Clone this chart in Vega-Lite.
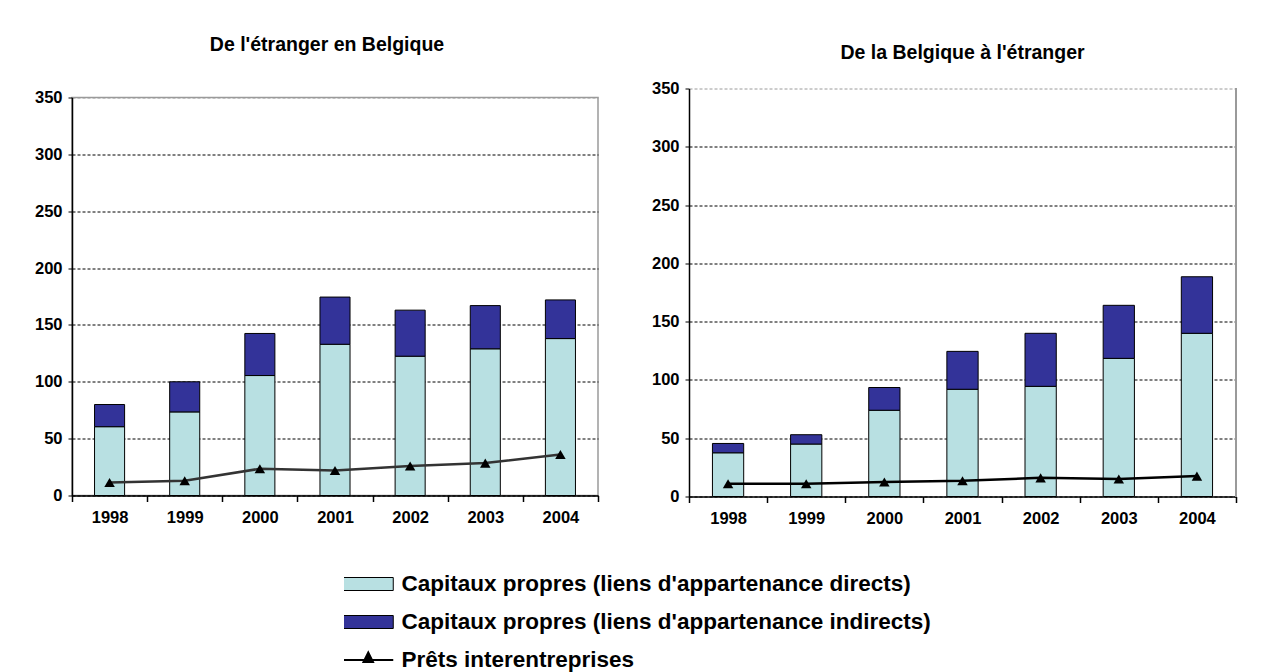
{
  "$schema": "https://vega.github.io/schema/vega-lite/v6.json",
  "padding": {"left": 33, "top": 33.5, "right": 5, "bottom": 5},
  "autosize": {"type": "pad"},
  "background": "white",
  "spacing": 51,
  "datasets": {
    "d": [
      {"panel": "A", "year": "1998", "series": "Capitaux propres (liens d'appartenance directs)", "value": 60.5},
      {"panel": "A", "year": "1998", "series": "Capitaux propres (liens d'appartenance indirects)", "value": 19.5},
      {"panel": "A", "year": "1998", "series": "Prêts interentreprises", "value": 11.5},
      {"panel": "A", "year": "1999", "series": "Capitaux propres (liens d'appartenance directs)", "value": 73.5},
      {"panel": "A", "year": "1999", "series": "Capitaux propres (liens d'appartenance indirects)", "value": 26.5},
      {"panel": "A", "year": "1999", "series": "Prêts interentreprises", "value": 13},
      {"panel": "A", "year": "2000", "series": "Capitaux propres (liens d'appartenance directs)", "value": 105.5},
      {"panel": "A", "year": "2000", "series": "Capitaux propres (liens d'appartenance indirects)", "value": 37},
      {"panel": "A", "year": "2000", "series": "Prêts interentreprises", "value": 23.5},
      {"panel": "A", "year": "2001", "series": "Capitaux propres (liens d'appartenance directs)", "value": 133},
      {"panel": "A", "year": "2001", "series": "Capitaux propres (liens d'appartenance indirects)", "value": 41.5},
      {"panel": "A", "year": "2001", "series": "Prêts interentreprises", "value": 22},
      {"panel": "A", "year": "2002", "series": "Capitaux propres (liens d'appartenance directs)", "value": 122.5},
      {"panel": "A", "year": "2002", "series": "Capitaux propres (liens d'appartenance indirects)", "value": 40.5},
      {"panel": "A", "year": "2002", "series": "Prêts interentreprises", "value": 26},
      {"panel": "A", "year": "2003", "series": "Capitaux propres (liens d'appartenance directs)", "value": 129},
      {"panel": "A", "year": "2003", "series": "Capitaux propres (liens d'appartenance indirects)", "value": 38},
      {"panel": "A", "year": "2003", "series": "Prêts interentreprises", "value": 28.5},
      {"panel": "A", "year": "2004", "series": "Capitaux propres (liens d'appartenance directs)", "value": 138},
      {"panel": "A", "year": "2004", "series": "Capitaux propres (liens d'appartenance indirects)", "value": 34},
      {"panel": "A", "year": "2004", "series": "Prêts interentreprises", "value": 36},
      {"panel": "B", "year": "1998", "series": "Capitaux propres (liens d'appartenance directs)", "value": 37.5},
      {"panel": "B", "year": "1998", "series": "Capitaux propres (liens d'appartenance indirects)", "value": 8},
      {"panel": "B", "year": "1998", "series": "Prêts interentreprises", "value": 11},
      {"panel": "B", "year": "1999", "series": "Capitaux propres (liens d'appartenance directs)", "value": 45},
      {"panel": "B", "year": "1999", "series": "Capitaux propres (liens d'appartenance indirects)", "value": 8},
      {"panel": "B", "year": "1999", "series": "Prêts interentreprises", "value": 11},
      {"panel": "B", "year": "2000", "series": "Capitaux propres (liens d'appartenance directs)", "value": 74},
      {"panel": "B", "year": "2000", "series": "Capitaux propres (liens d'appartenance indirects)", "value": 19.5},
      {"panel": "B", "year": "2000", "series": "Prêts interentreprises", "value": 12.5},
      {"panel": "B", "year": "2001", "series": "Capitaux propres (liens d'appartenance directs)", "value": 92},
      {"panel": "B", "year": "2001", "series": "Capitaux propres (liens d'appartenance indirects)", "value": 32.5},
      {"panel": "B", "year": "2001", "series": "Prêts interentreprises", "value": 13.5},
      {"panel": "B", "year": "2002", "series": "Capitaux propres (liens d'appartenance directs)", "value": 94.5},
      {"panel": "B", "year": "2002", "series": "Capitaux propres (liens d'appartenance indirects)", "value": 45.5},
      {"panel": "B", "year": "2002", "series": "Prêts interentreprises", "value": 16},
      {"panel": "B", "year": "2003", "series": "Capitaux propres (liens d'appartenance directs)", "value": 118.5},
      {"panel": "B", "year": "2003", "series": "Capitaux propres (liens d'appartenance indirects)", "value": 45.5},
      {"panel": "B", "year": "2003", "series": "Prêts interentreprises", "value": 15},
      {"panel": "B", "year": "2004", "series": "Capitaux propres (liens d'appartenance directs)", "value": 140},
      {"panel": "B", "year": "2004", "series": "Capitaux propres (liens d'appartenance indirects)", "value": 48.5},
      {"panel": "B", "year": "2004", "series": "Prêts interentreprises", "value": 17.5}
    ]
  },
  "hconcat": [
    {
      "width": 526,
      "height": 398,
      "title": {"text": "De l'étranger en Belgique", "offset": 34.5, "dx": -8},
      "data": {"name": "d"},
      "transform": [{"filter": "datum.panel === 'A'"}],
      "encoding": {
        "x": {"field": "year", "type": "ordinal", "title": null,
              "scale": {"paddingInner": 0, "paddingOuter": 0},
              "axis": {"tickBand": "extent", "labelAngle": 0, "tickSize": 6, "labelPadding": 8, "domainWidth": 1.5, "tickWidth": 1.5}},
        "y": {"field": "value", "type": "quantitative", "title": null,
              "scale": {"domain": [0, 350], "nice": false},
              "axis": {"values": [0, 50, 100, 150, 200, 250, 300, 350], "tickSize": 4, "labelPadding": 6, "grid": true, "gridDash": [3, 2],
                       "gridColor": {"condition": {"test": "datum.value === 350", "value": "#9a9a9a"}, "value": "black"},
                       "domainWidth": 1.5}}
      },
      "layer": [
        {
          "transform": [{"filter": "datum.series !== 'Prêts interentreprises'"}],
          "mark": {"type": "bar", "width": {"band": 0.4}, "stroke": "black", "strokeWidth": 1},
          "encoding": {
            "color": {"field": "series", "type": "nominal",
                      "scale": {"domain": ["Capitaux propres (liens d'appartenance directs)", "Capitaux propres (liens d'appartenance indirects)", "Prêts interentreprises"],
                                "range": ["#b8e0e2", "#333399", "black"]},
                      "legend": {"orient": "none", "legendX": 272, "legendY": 476.5,
                                 "encode": {"symbols": {"update": {
                                   "shape": {"signal": "datum.value === 'Prêts interentreprises' ? 'M-1,0H1M0,-0.3L0.19,0.08H-0.19Z' : 'M-1,-0.26H1V0.26H-1Z'"},
                                   "strokeWidth": {"signal": "datum.value === 'Prêts interentreprises' ? 2 : 1"},
                                   "stroke": {"value": "black"}}}}}},
            "order": {"field": "series", "sort": "ascending"}
          }
        },
        {
          "transform": [{"filter": "datum.series === 'Prêts interentreprises'"}],
          "mark": {"type": "line", "color": "#333333", "strokeWidth": 2.5},
          "encoding": {}
        },
        {
          "transform": [{"filter": "datum.series === 'Prêts interentreprises'"}],
          "mark": {"type": "point", "shape": "triangle-up", "filled": true, "size": 110, "opacity": 1},
          "encoding": {
            "color": {"field": "series", "type": "nominal"}
          }
        }
      ]
    },
    {
      "width": 547,
      "height": 399,
      "view": {"stroke": null},
      "title": {"text": "De la Belgique à l'étranger", "offset": 17.5},
      "data": {"name": "d"},
      "transform": [{"filter": "datum.panel === 'B'"}],
      "encoding": {
        "x": {"field": "year", "type": "ordinal", "title": null,
              "scale": {"paddingInner": 0, "paddingOuter": 0},
              "axis": {"tickBand": "extent", "labelAngle": 0, "tickSize": 6, "labelPadding": 8, "domainWidth": 1.5, "tickWidth": 1.5}},
        "y": {"field": "value", "type": "quantitative", "title": null,
              "scale": {"domain": [0, 350], "nice": false, "range": [399, -9]},
              "axis": {"values": [0, 50, 100, 150, 200, 250, 300, 350], "tickSize": 4, "labelPadding": 6, "grid": true, "gridDash": [3, 2],
                       "gridColor": {"condition": {"test": "datum.value === 350", "value": "#9a9a9a"}, "value": "black"},
                       "domainWidth": 1.5}}
      },
      "layer": [
        {
          "transform": [{"filter": "datum.series !== 'Prêts interentreprises'"}],
          "mark": {"type": "bar", "width": {"band": 0.4}, "stroke": "black", "strokeWidth": 1},
          "encoding": {
            "color": {"field": "series", "type": "nominal"},
            "order": {"field": "series", "sort": "ascending"}
          }
        },
        {
          "transform": [{"filter": "datum.series === 'Prêts interentreprises'"}],
          "mark": {"type": "line", "color": "black", "strokeWidth": 2.5},
          "encoding": {}
        },
        {
          "transform": [{"filter": "datum.series === 'Prêts interentreprises'"}],
          "mark": {"type": "point", "shape": "triangle-up", "filled": true, "size": 110, "opacity": 1},
          "encoding": {
            "color": {"field": "series", "type": "nominal"}
          }
        },
        {
          "mark": {"type": "rule", "color": "#9a9a9a", "strokeWidth": 1.5},
          "encoding": {
            "x": {"datum": "2004", "type": "ordinal", "bandPosition": 1},
            "y": {"datum": 0},
            "y2": {"datum": 350}
          }
        }
      ]
    }
  ],
  "resolve": {"scale": {"color": "shared"}, "legend": {"color": "shared"}},
  "config": {
    "font": "Liberation Sans",
    "view": {"stroke": "#9a9a9a", "strokeWidth": 1.5},
    "title": {"font": "Liberation Sans", "fontSize": 19.5, "fontWeight": "bold", "color": "black", "anchor": "middle", "frame": "group", "baseline": "bottom"},
    "axis": {"labelFont": "Liberation Sans", "labelFontSize": 16.5, "labelFontWeight": "bold", "labelColor": "black", "domainColor": "black", "tickColor": "black"},
    "legend": {
      "title": null,
      "labelFont": "Liberation Sans",
      "labelFontSize": 22.5,
      "labelFontWeight": "bold",
      "labelColor": "black",
      "labelLimit": 0,
      "labelOffset": 22,
      "rowPadding": 15,
      "clipHeight": 20,
      "padding": 0,
      "symbolOffset": 13,
      "symbolSize": 2500,
      "symbolStrokeColor": "black",
      "symbolStrokeWidth": 1,
      "symbolOpacity": 1,
      "direction": "vertical",
      "labelBaseline": "middle"
    }
  }
}
